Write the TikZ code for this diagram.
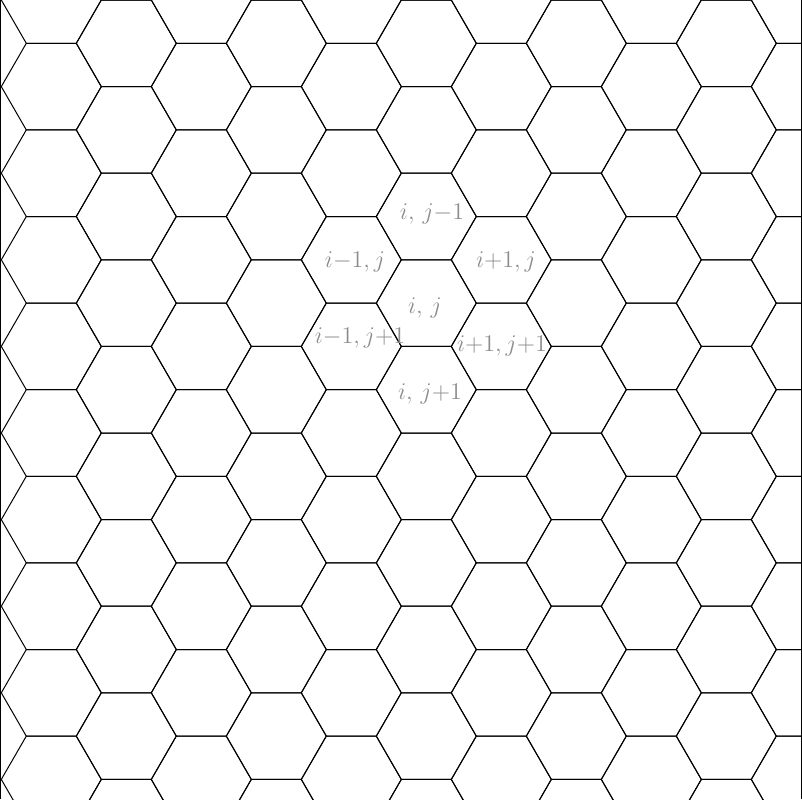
\documentclass[tikz,border=0pt]{standalone}
\begin{document}
\begin{tikzpicture}[x=0.5pt,y=-0.5pt,
  hexline/.style={draw=black,line width=0.5pt},
  border/.style={draw=black,line width=0.7pt},
  lbl/.style={text=black!45,font=\fontsize{12.5}{14}\selectfont,inner sep=0pt}]
\useasboundingbox (0,0) rectangle (802,799);
\begin{scope}
\clip (0,0) rectangle (802,799);
\foreach \k in {0,...,11}{
  \foreach \n in {-1,...,10}{
    \pgfmathsetmacro\cx{51.3+75*\k}
    \pgfmathsetmacro\cy{86.6*\n+43.3*mod(\k,2)}
    \draw[hexline,shift={(\cx,\cy)}] (-50,0) -- (-25,43.3) -- (25,43.3) -- (50,0) -- (25,-43.3) -- (-25,-43.3) -- cycle;
  }
}
\end{scope}
\draw[border] (0.6,0) -- (0.6,799);
\draw[border] (801.3,0) -- (801.3,799);
\node[lbl] (ijm) at (432,214) {$i,\, j{-}1$};
\node[lbl] (imj) at (355,262) {$i{-}1, j$};
\node[lbl] (ipj) at (506,262) {$i{+}1, j$};
\node[lbl] (ij) at (425,308) {$i,\, j$};
\node[lbl] (imjp) at (360,338) {$i{-}1, j{+}1$};
\node[lbl] (ipjp) at (502,346) {$i{+}1, j{+}1$};
\node[lbl] (ijp) at (430,394) {$i,\, j{+}1$};
\end{tikzpicture}
\end{document}
